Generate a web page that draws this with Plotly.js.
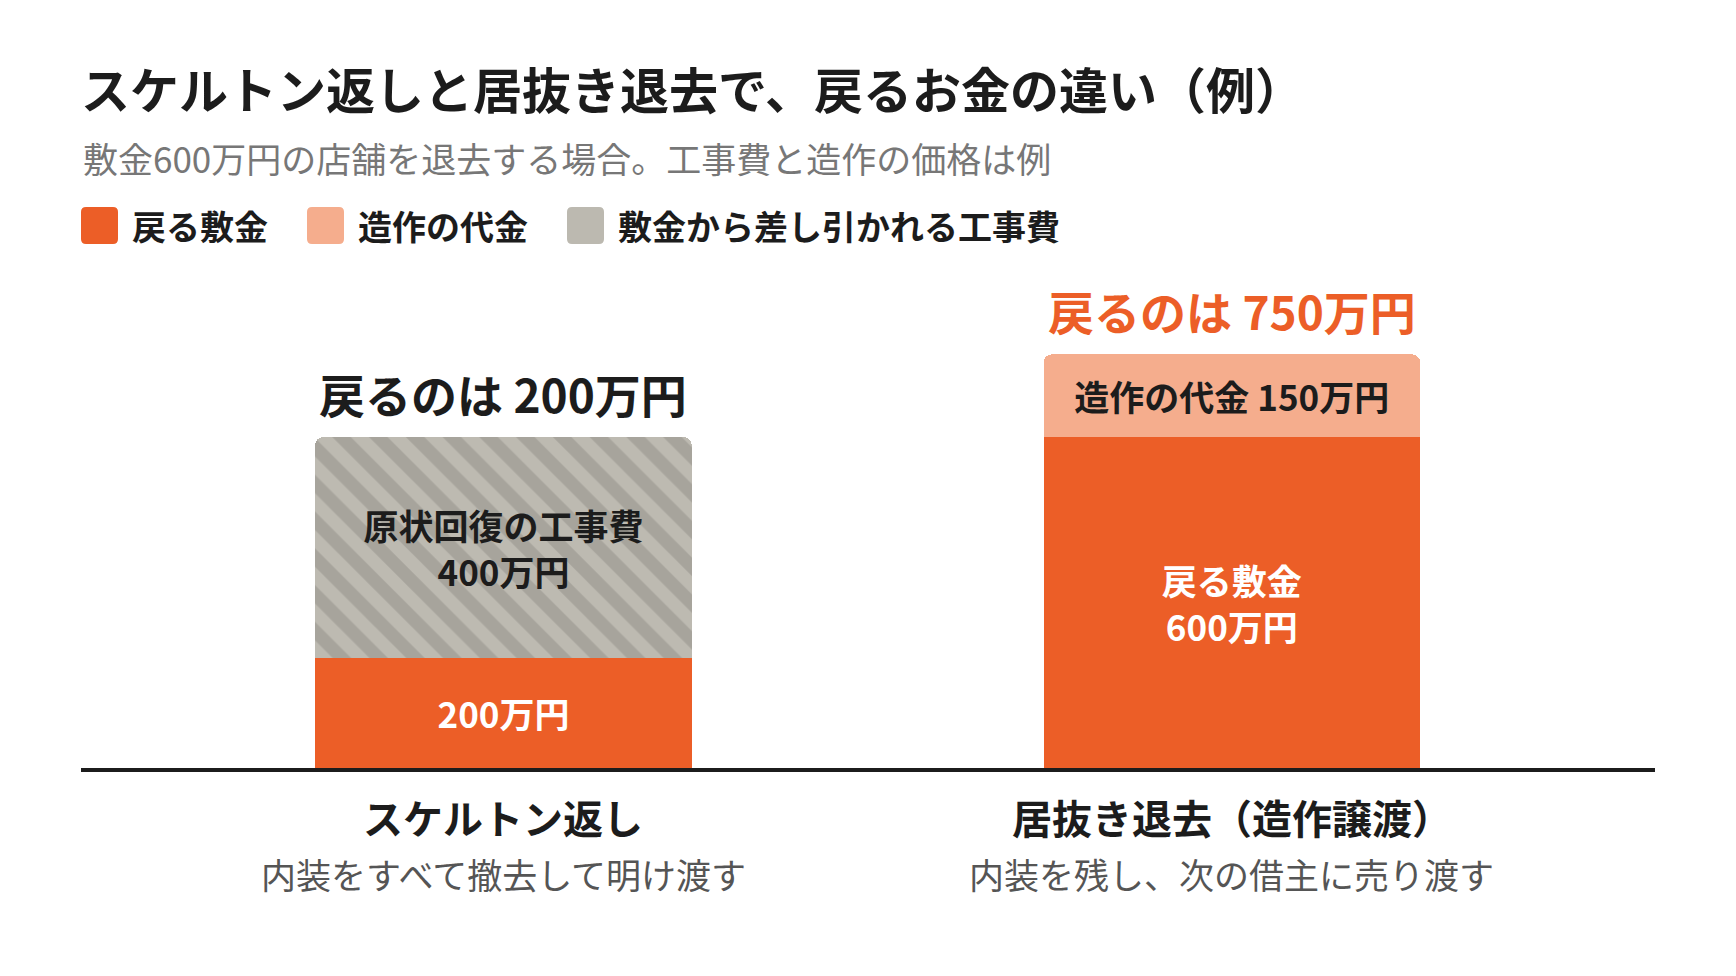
<!DOCTYPE html>
<html>
<head>
<meta charset="utf-8">
<script src="https://cdn.plot.ly/plotly-3.0.1.min.js"></script>
<style>
  html, body { margin: 0; padding: 0; background: #fff; }
  #chart { width: 1736px; height: 976px; }
</style>
</head>
<body>
<div id="chart"></div>
<script>
// data (万円)
var categories = ['スケルトン返し', '居抜き退去（造作譲渡）'];
var categoryNotes = ['内装をすべて撤去して明け渡す', '内装を残し、次の借主に売り渡す'];
var returnedDeposit = [200, 600];
var restorationCost = [400, null];
var fixturePrice = [null, 150];
var legendNames = ['戻る敷金', '造作の代金', '敷金から差し引かれる工事費'];

var FONT = '"Noto Sans CJK JP", "Noto Sans", sans-serif';
var ORANGE = '#EC5E27';
var PEACH = '#F5AD8D';
var GRAY = '#BCB9B0';
var INK = '#1c1c1c';

var W = 1736, H = 976;
var mL = 81, mR = 81, mT = 250, mB = 208;
var plotW = W - mL - mR, plotH = H - mT - mB;

// pixel -> paper helpers for the hand-drawn legend
function px(x) { return (x - mL) / plotW; }
function py(y) { return (H - mB - y) / plotH; }

function roundRect(x0, y0, s, r) {
  var x1 = x0 + s, y1 = y0 + s;
  return 'M ' + px(x0 + r) + ' ' + py(y0) +
    ' L ' + px(x1 - r) + ' ' + py(y0) +
    ' Q ' + px(x1) + ' ' + py(y0) + ' ' + px(x1) + ' ' + py(y0 + r) +
    ' L ' + px(x1) + ' ' + py(y1 - r) +
    ' Q ' + px(x1) + ' ' + py(y1) + ' ' + px(x1 - r) + ' ' + py(y1) +
    ' L ' + px(x0 + r) + ' ' + py(y1) +
    ' Q ' + px(x0) + ' ' + py(y1) + ' ' + px(x0) + ' ' + py(y1 - r) +
    ' L ' + px(x0) + ' ' + py(y0 + r) +
    ' Q ' + px(x0) + ' ' + py(y0) + ' ' + px(x0 + r) + ' ' + py(y0) + ' Z';
}

var depositText = returnedDeposit.map(function (v, i) {
  return (fixturePrice[i] ? '戻る敷金<br>' : '') + v + '万円';
});
var costText = restorationCost.map(function (v) {
  return v == null ? '' : '原状回復の工事費<br>' + v + '万円';
});
var fixtureText = fixturePrice.map(function (v) {
  return v == null ? '' : '造作の代金 ' + v + '万円';
});

var deposit = {
  type: 'bar', name: legendNames[0],
  x: categories, y: returnedDeposit,
  text: depositText, textposition: 'inside', insidetextanchor: 'middle', textangle: 0,
  textfont: { family: FONT, size: 35, color: '#ffffff', weight: 700 },
  marker: { color: ORANGE, line: { width: 0 } },
  width: 0.517, hoverinfo: 'skip'
};
var cost = {
  type: 'bar', name: legendNames[2],
  x: categories, y: restorationCost,
  text: costText, textposition: 'inside', insidetextanchor: 'middle', textangle: 0,
  textfont: { family: FONT, size: 35, color: INK, weight: 700 },
  marker: {
    color: '#BDBAB1', line: { width: 0 },
    pattern: { shape: '\\', bgcolor: '#BDBAB1', fgcolor: '#A7A49C', size: 26, solidity: 0.5, fillmode: 'replace' }
  },
  width: 0.517, hoverinfo: 'skip'
};
var fixture = {
  type: 'bar', name: legendNames[1],
  x: categories, y: fixturePrice,
  text: fixtureText, textposition: 'inside', insidetextanchor: 'middle', textangle: 0,
  textfont: { family: FONT, size: 35, color: INK, weight: 700 },
  marker: { color: PEACH, line: { width: 0 } },
  width: 0.517, hoverinfo: 'skip'
};

var annotations = [];

// subtitle
annotations.push({
  xref: 'paper', yref: 'paper', x: px(81), y: py(157), xanchor: 'left', yanchor: 'middle',
  text: '敷金600万円の店舗を退去する場合。工事費と造作の価格は例', showarrow: false,
  font: { family: FONT, size: 35, color: '#777777' }
});

// totals on top of each stack, category names under the axis
categories.forEach(function (c, i) {
  var total = returnedDeposit[i] + (fixturePrice[i] || 0);
  var top = total + (restorationCost[i] || 0);
  annotations.push({
    xref: 'x', yref: 'y', x: c, y: top, yanchor: 'middle', yshift: 44,
    text: '戻るのは ' + total + '万円', showarrow: false,
    font: { family: FONT, size: 46, weight: 700, color: fixturePrice[i] ? ORANGE : INK }
  });
  annotations.push({
    xref: 'x', yref: 'y', x: c, y: 0, yanchor: 'middle', yshift: -49,
    text: c, showarrow: false,
    font: { family: FONT, size: 40, weight: 700, color: INK }
  });
  annotations.push({
    xref: 'x', yref: 'y', x: c, y: 0, yanchor: 'middle', yshift: -105,
    text: categoryNotes[i], showarrow: false,
    font: { family: FONT, size: 35, color: '#555555' }
  });
});

// legend
var legendBox = [81, 307, 567];
var legendColors = [ORANGE, PEACH, GRAY];
var shapes = [];
legendNames.forEach(function (n, i) {
  shapes.push({
    type: 'path', xref: 'paper', yref: 'paper',
    path: roundRect(legendBox[i], 207, 37, 5),
    fillcolor: legendColors[i], line: { width: 0 }
  });
  annotations.push({
    xref: 'paper', yref: 'paper', x: px(legendBox[i] + 49), y: py(225.5),
    xanchor: 'left', yanchor: 'middle', text: n, showarrow: false,
    font: { family: FONT, size: 34, weight: 700, color: INK }
  });
});

var layout = {
  width: W, height: H,
  margin: { l: mL, r: mR, t: mT, b: mB, pad: 0 },
  paper_bgcolor: '#ffffff', plot_bgcolor: '#ffffff',
  barmode: 'stack', barcornerradius: 8,
  showlegend: false,
  title: {
    text: 'スケルトン返しと居抜き退去で、戻るお金の違い（例）',
    xref: 'container', yref: 'container',
    x: 81 / W, xanchor: 'left', y: 1 - 92 / H, yanchor: 'middle',
    font: { family: FONT, size: 49, weight: 700, color: INK }
  },
  xaxis: {
    type: 'category', range: [-0.58, 1.581],
    showticklabels: false, ticks: '', showgrid: false, zeroline: false,
    showline: true, linecolor: INK, linewidth: 4, fixedrange: true
  },
  yaxis: {
    range: [0, plotH / 0.5515], visible: false, showgrid: false, zeroline: false, fixedrange: true
  },
  annotations: annotations,
  shapes: shapes,
  font: { family: FONT }
};

Plotly.newPlot('chart', [deposit, cost, fixture], layout, { displayModeBar: false, staticPlot: true });
</script>
</body>
</html>
